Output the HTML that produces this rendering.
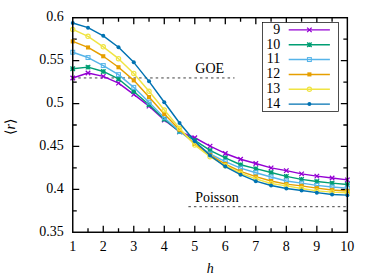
<!DOCTYPE html>
<html><head><meta charset="utf-8"><title>chart</title>
<style>
html,body{margin:0;padding:0;background:#fff;}
body{width:374px;height:280px;overflow:hidden;font-family:"Liberation Serif", serif;}
svg{display:block;}
text{font-family:"Liberation Serif", serif;font-size:14px;}
</style></head><body>
<svg width="374" height="280" viewBox="0 0 374 280">
<rect x="0" y="0" width="374" height="280" fill="#ffffff"/>
<path d="M88.01 232.25v-4.0M88.01 17.72v4.0M103.26 232.25v-6.5M103.26 17.72v6.5M118.52 232.25v-4.0M118.52 17.72v4.0M133.77 232.25v-6.5M133.77 17.72v6.5M149.03 232.25v-4.0M149.03 17.72v4.0M164.28 232.25v-6.5M164.28 17.72v6.5M179.54 232.25v-4.0M179.54 17.72v4.0M194.79 232.25v-6.5M194.79 17.72v6.5M210.05 232.25v-4.0M210.05 17.72v4.0M225.31 232.25v-6.5M225.31 17.72v6.5M240.56 232.25v-4.0M240.56 17.72v4.0M255.82 232.25v-6.5M255.82 17.72v6.5M271.07 232.25v-4.0M271.07 17.72v4.0M286.33 232.25v-6.5M286.33 17.72v6.5M301.58 232.25v-4.0M301.58 17.72v4.0M316.84 232.25v-6.5M316.84 17.72v6.5M332.09 232.25v-4.0M332.09 17.72v4.0M72.75 39.17h4.0M347.35 39.17h-4.0M72.75 60.63h6.5M347.35 60.63h-6.5M72.75 82.08h4.0M347.35 82.08h-4.0M72.75 103.53h6.5M347.35 103.53h-6.5M72.75 124.98h4.0M347.35 124.98h-4.0M72.75 146.44h6.5M347.35 146.44h-6.5M72.75 167.89h4.0M347.35 167.89h-4.0M72.75 189.34h6.5M347.35 189.34h-6.5M72.75 210.80h4.0M347.35 210.80h-4.0" stroke="#000" stroke-width="1.3" fill="none"/>
<path d="M72.75 77.95H234.5" stroke="#000" stroke-width="0.75" stroke-dasharray="2.5 3.03" fill="none"/>
<path d="M188.4 206.7H347.35" stroke="#000" stroke-width="0.75" stroke-dasharray="2.5 3.03" fill="none"/>
<polyline points="72.75,77.95 88.01,73.05 103.26,76.35 118.52,83.15 133.77,94.35 149.03,106.15 164.28,120.00 179.54,131.80 194.79,137.75 210.05,146.15 225.31,153.45 240.56,159.25 255.82,163.55 271.07,167.85 286.33,170.65 301.58,173.85 316.84,176.15 332.09,178.05 347.35,179.85" stroke="#9400d3" stroke-width="1.45" fill="none" stroke-linejoin="round"/>
<path d="M70.50 75.70L75.00 80.20M70.50 80.20L75.00 75.70" stroke="#9400d3" stroke-width="1.3" fill="none"/><path d="M85.76 70.80L90.26 75.30M85.76 75.30L90.26 70.80" stroke="#9400d3" stroke-width="1.3" fill="none"/><path d="M101.01 74.10L105.51 78.60M101.01 78.60L105.51 74.10" stroke="#9400d3" stroke-width="1.3" fill="none"/><path d="M116.27 80.90L120.77 85.40M116.27 85.40L120.77 80.90" stroke="#9400d3" stroke-width="1.3" fill="none"/><path d="M131.52 92.10L136.02 96.60M131.52 96.60L136.02 92.10" stroke="#9400d3" stroke-width="1.3" fill="none"/><path d="M146.78 103.90L151.28 108.40M146.78 108.40L151.28 103.90" stroke="#9400d3" stroke-width="1.3" fill="none"/><path d="M162.03 117.75L166.53 122.25M162.03 122.25L166.53 117.75" stroke="#9400d3" stroke-width="1.3" fill="none"/><path d="M177.29 129.55L181.79 134.05M177.29 134.05L181.79 129.55" stroke="#9400d3" stroke-width="1.3" fill="none"/><path d="M192.54 135.50L197.04 140.00M192.54 140.00L197.04 135.50" stroke="#9400d3" stroke-width="1.3" fill="none"/><path d="M207.80 143.90L212.30 148.40M207.80 148.40L212.30 143.90" stroke="#9400d3" stroke-width="1.3" fill="none"/><path d="M223.06 151.20L227.56 155.70M223.06 155.70L227.56 151.20" stroke="#9400d3" stroke-width="1.3" fill="none"/><path d="M238.31 157.00L242.81 161.50M238.31 161.50L242.81 157.00" stroke="#9400d3" stroke-width="1.3" fill="none"/><path d="M253.57 161.30L258.07 165.80M253.57 165.80L258.07 161.30" stroke="#9400d3" stroke-width="1.3" fill="none"/><path d="M268.82 165.60L273.32 170.10M268.82 170.10L273.32 165.60" stroke="#9400d3" stroke-width="1.3" fill="none"/><path d="M284.08 168.40L288.58 172.90M284.08 172.90L288.58 168.40" stroke="#9400d3" stroke-width="1.3" fill="none"/><path d="M299.33 171.60L303.83 176.10M299.33 176.10L303.83 171.60" stroke="#9400d3" stroke-width="1.3" fill="none"/><path d="M314.59 173.90L319.09 178.40M314.59 178.40L319.09 173.90" stroke="#9400d3" stroke-width="1.3" fill="none"/><path d="M329.84 175.80L334.34 180.30M329.84 180.30L334.34 175.80" stroke="#9400d3" stroke-width="1.3" fill="none"/><path d="M345.10 177.60L349.60 182.10M345.10 182.10L349.60 177.60" stroke="#9400d3" stroke-width="1.3" fill="none"/>
<polyline points="72.75,68.75 88.01,67.15 103.26,71.45 118.52,78.95 133.77,91.55 149.03,104.75 164.28,119.20 179.54,131.70 194.79,140.45 210.05,150.45 225.31,157.85 240.56,164.75 255.82,168.65 271.07,172.45 286.33,176.35 301.58,179.35 316.84,181.45 332.09,183.15 347.35,184.45" stroke="#009e73" stroke-width="1.45" fill="none" stroke-linejoin="round"/>
<path d="M70.50 66.50L75.00 71.00M70.50 71.00L75.00 66.50M70.50 68.75L75.00 68.75M72.75 66.50L72.75 71.00" stroke="#009e73" stroke-width="1.3" fill="none"/><path d="M85.76 64.90L90.26 69.40M85.76 69.40L90.26 64.90M85.76 67.15L90.26 67.15M88.01 64.90L88.01 69.40" stroke="#009e73" stroke-width="1.3" fill="none"/><path d="M101.01 69.20L105.51 73.70M101.01 73.70L105.51 69.20M101.01 71.45L105.51 71.45M103.26 69.20L103.26 73.70" stroke="#009e73" stroke-width="1.3" fill="none"/><path d="M116.27 76.70L120.77 81.20M116.27 81.20L120.77 76.70M116.27 78.95L120.77 78.95M118.52 76.70L118.52 81.20" stroke="#009e73" stroke-width="1.3" fill="none"/><path d="M131.52 89.30L136.02 93.80M131.52 93.80L136.02 89.30M131.52 91.55L136.02 91.55M133.77 89.30L133.77 93.80" stroke="#009e73" stroke-width="1.3" fill="none"/><path d="M146.78 102.50L151.28 107.00M146.78 107.00L151.28 102.50M146.78 104.75L151.28 104.75M149.03 102.50L149.03 107.00" stroke="#009e73" stroke-width="1.3" fill="none"/><path d="M162.03 116.95L166.53 121.45M162.03 121.45L166.53 116.95M162.03 119.20L166.53 119.20M164.28 116.95L164.28 121.45" stroke="#009e73" stroke-width="1.3" fill="none"/><path d="M177.29 129.45L181.79 133.95M177.29 133.95L181.79 129.45M177.29 131.70L181.79 131.70M179.54 129.45L179.54 133.95" stroke="#009e73" stroke-width="1.3" fill="none"/><path d="M192.54 138.20L197.04 142.70M192.54 142.70L197.04 138.20M192.54 140.45L197.04 140.45M194.79 138.20L194.79 142.70" stroke="#009e73" stroke-width="1.3" fill="none"/><path d="M207.80 148.20L212.30 152.70M207.80 152.70L212.30 148.20M207.80 150.45L212.30 150.45M210.05 148.20L210.05 152.70" stroke="#009e73" stroke-width="1.3" fill="none"/><path d="M223.06 155.60L227.56 160.10M223.06 160.10L227.56 155.60M223.06 157.85L227.56 157.85M225.31 155.60L225.31 160.10" stroke="#009e73" stroke-width="1.3" fill="none"/><path d="M238.31 162.50L242.81 167.00M238.31 167.00L242.81 162.50M238.31 164.75L242.81 164.75M240.56 162.50L240.56 167.00" stroke="#009e73" stroke-width="1.3" fill="none"/><path d="M253.57 166.40L258.07 170.90M253.57 170.90L258.07 166.40M253.57 168.65L258.07 168.65M255.82 166.40L255.82 170.90" stroke="#009e73" stroke-width="1.3" fill="none"/><path d="M268.82 170.20L273.32 174.70M268.82 174.70L273.32 170.20M268.82 172.45L273.32 172.45M271.07 170.20L271.07 174.70" stroke="#009e73" stroke-width="1.3" fill="none"/><path d="M284.08 174.10L288.58 178.60M284.08 178.60L288.58 174.10M284.08 176.35L288.58 176.35M286.33 174.10L286.33 178.60" stroke="#009e73" stroke-width="1.3" fill="none"/><path d="M299.33 177.10L303.83 181.60M299.33 181.60L303.83 177.10M299.33 179.35L303.83 179.35M301.58 177.10L301.58 181.60" stroke="#009e73" stroke-width="1.3" fill="none"/><path d="M314.59 179.20L319.09 183.70M314.59 183.70L319.09 179.20M314.59 181.45L319.09 181.45M316.84 179.20L316.84 183.70" stroke="#009e73" stroke-width="1.3" fill="none"/><path d="M329.84 180.90L334.34 185.40M329.84 185.40L334.34 180.90M329.84 183.15L334.34 183.15M332.09 180.90L332.09 185.40" stroke="#009e73" stroke-width="1.3" fill="none"/><path d="M345.10 182.20L349.60 186.70M345.10 186.70L349.60 182.20M345.10 184.45L349.60 184.45M347.35 182.20L347.35 186.70" stroke="#009e73" stroke-width="1.3" fill="none"/>
<polyline points="72.75,52.25 88.01,57.55 103.26,65.55 118.52,74.65 133.77,87.35 149.03,102.15 164.28,117.70 179.54,131.20 194.79,142.95 210.05,153.95 225.31,161.65 240.56,168.15 255.82,172.75 271.07,177.05 286.33,180.95 301.58,183.15 316.84,185.35 332.09,186.95 347.35,188.15" stroke="#56b4e9" stroke-width="1.45" fill="none" stroke-linejoin="round"/>
<rect x="70.80" y="50.30" width="3.90" height="3.90" stroke="#56b4e9" stroke-width="1.05" fill="none"/><rect x="86.06" y="55.60" width="3.90" height="3.90" stroke="#56b4e9" stroke-width="1.05" fill="none"/><rect x="101.31" y="63.60" width="3.90" height="3.90" stroke="#56b4e9" stroke-width="1.05" fill="none"/><rect x="116.57" y="72.70" width="3.90" height="3.90" stroke="#56b4e9" stroke-width="1.05" fill="none"/><rect x="131.82" y="85.40" width="3.90" height="3.90" stroke="#56b4e9" stroke-width="1.05" fill="none"/><rect x="147.08" y="100.20" width="3.90" height="3.90" stroke="#56b4e9" stroke-width="1.05" fill="none"/><rect x="162.33" y="115.75" width="3.90" height="3.90" stroke="#56b4e9" stroke-width="1.05" fill="none"/><rect x="177.59" y="129.25" width="3.90" height="3.90" stroke="#56b4e9" stroke-width="1.05" fill="none"/><rect x="192.84" y="141.00" width="3.90" height="3.90" stroke="#56b4e9" stroke-width="1.05" fill="none"/><rect x="208.10" y="152.00" width="3.90" height="3.90" stroke="#56b4e9" stroke-width="1.05" fill="none"/><rect x="223.36" y="159.70" width="3.90" height="3.90" stroke="#56b4e9" stroke-width="1.05" fill="none"/><rect x="238.61" y="166.20" width="3.90" height="3.90" stroke="#56b4e9" stroke-width="1.05" fill="none"/><rect x="253.87" y="170.80" width="3.90" height="3.90" stroke="#56b4e9" stroke-width="1.05" fill="none"/><rect x="269.12" y="175.10" width="3.90" height="3.90" stroke="#56b4e9" stroke-width="1.05" fill="none"/><rect x="284.38" y="179.00" width="3.90" height="3.90" stroke="#56b4e9" stroke-width="1.05" fill="none"/><rect x="299.63" y="181.20" width="3.90" height="3.90" stroke="#56b4e9" stroke-width="1.05" fill="none"/><rect x="314.89" y="183.40" width="3.90" height="3.90" stroke="#56b4e9" stroke-width="1.05" fill="none"/><rect x="330.14" y="185.00" width="3.90" height="3.90" stroke="#56b4e9" stroke-width="1.05" fill="none"/><rect x="345.40" y="186.20" width="3.90" height="3.90" stroke="#56b4e9" stroke-width="1.05" fill="none"/>
<polyline points="72.75,41.40 88.01,47.45 103.26,56.25 118.52,67.25 133.77,80.35 149.03,97.05 164.28,114.00 179.54,129.80 194.79,143.95 210.05,154.95 225.31,164.05 240.56,171.35 255.82,176.65 271.07,181.05 286.33,184.15 301.58,185.85 316.84,188.15 332.09,189.95 347.35,190.95" stroke="#e69f00" stroke-width="1.45" fill="none" stroke-linejoin="round"/>
<rect x="70.70" y="39.35" width="4.10" height="4.10" fill="#e69f00"/><rect x="85.96" y="45.40" width="4.10" height="4.10" fill="#e69f00"/><rect x="101.21" y="54.20" width="4.10" height="4.10" fill="#e69f00"/><rect x="116.47" y="65.20" width="4.10" height="4.10" fill="#e69f00"/><rect x="131.72" y="78.30" width="4.10" height="4.10" fill="#e69f00"/><rect x="146.98" y="95.00" width="4.10" height="4.10" fill="#e69f00"/><rect x="162.23" y="111.95" width="4.10" height="4.10" fill="#e69f00"/><rect x="177.49" y="127.75" width="4.10" height="4.10" fill="#e69f00"/><rect x="192.74" y="141.90" width="4.10" height="4.10" fill="#e69f00"/><rect x="208.00" y="152.90" width="4.10" height="4.10" fill="#e69f00"/><rect x="223.26" y="162.00" width="4.10" height="4.10" fill="#e69f00"/><rect x="238.51" y="169.30" width="4.10" height="4.10" fill="#e69f00"/><rect x="253.77" y="174.60" width="4.10" height="4.10" fill="#e69f00"/><rect x="269.02" y="179.00" width="4.10" height="4.10" fill="#e69f00"/><rect x="284.28" y="182.10" width="4.10" height="4.10" fill="#e69f00"/><rect x="299.53" y="183.80" width="4.10" height="4.10" fill="#e69f00"/><rect x="314.79" y="186.10" width="4.10" height="4.10" fill="#e69f00"/><rect x="330.04" y="187.90" width="4.10" height="4.10" fill="#e69f00"/><rect x="345.30" y="188.90" width="4.10" height="4.10" fill="#e69f00"/>
<polyline points="72.75,29.45 88.01,36.35 103.26,46.85 118.52,58.65 133.77,73.45 149.03,91.25 164.28,110.00 179.54,128.30 194.79,145.05 210.05,156.65 225.31,165.65 240.56,173.25 255.82,178.85 271.07,183.55 286.33,185.85 301.58,188.55 316.84,190.85 332.09,192.15 347.35,192.75" stroke="#f0e442" stroke-width="1.45" fill="none" stroke-linejoin="round"/>
<circle cx="72.75" cy="29.45" r="2.15" stroke="#f0e442" stroke-width="1.15" fill="none"/><circle cx="88.01" cy="36.35" r="2.15" stroke="#f0e442" stroke-width="1.15" fill="none"/><circle cx="103.26" cy="46.85" r="2.15" stroke="#f0e442" stroke-width="1.15" fill="none"/><circle cx="118.52" cy="58.65" r="2.15" stroke="#f0e442" stroke-width="1.15" fill="none"/><circle cx="133.77" cy="73.45" r="2.15" stroke="#f0e442" stroke-width="1.15" fill="none"/><circle cx="149.03" cy="91.25" r="2.15" stroke="#f0e442" stroke-width="1.15" fill="none"/><circle cx="164.28" cy="110.00" r="2.15" stroke="#f0e442" stroke-width="1.15" fill="none"/><circle cx="179.54" cy="128.30" r="2.15" stroke="#f0e442" stroke-width="1.15" fill="none"/><circle cx="194.79" cy="145.05" r="2.15" stroke="#f0e442" stroke-width="1.15" fill="none"/><circle cx="210.05" cy="156.65" r="2.15" stroke="#f0e442" stroke-width="1.15" fill="none"/><circle cx="225.31" cy="165.65" r="2.15" stroke="#f0e442" stroke-width="1.15" fill="none"/><circle cx="240.56" cy="173.25" r="2.15" stroke="#f0e442" stroke-width="1.15" fill="none"/><circle cx="255.82" cy="178.85" r="2.15" stroke="#f0e442" stroke-width="1.15" fill="none"/><circle cx="271.07" cy="183.55" r="2.15" stroke="#f0e442" stroke-width="1.15" fill="none"/><circle cx="286.33" cy="185.85" r="2.15" stroke="#f0e442" stroke-width="1.15" fill="none"/><circle cx="301.58" cy="188.55" r="2.15" stroke="#f0e442" stroke-width="1.15" fill="none"/><circle cx="316.84" cy="190.85" r="2.15" stroke="#f0e442" stroke-width="1.15" fill="none"/><circle cx="332.09" cy="192.15" r="2.15" stroke="#f0e442" stroke-width="1.15" fill="none"/><circle cx="347.35" cy="192.75" r="2.15" stroke="#f0e442" stroke-width="1.15" fill="none"/>
<polyline points="72.75,22.95 88.01,27.65 103.26,35.85 118.52,47.25 133.77,62.35 149.03,81.35 164.28,102.30 179.54,123.00 194.79,141.25 210.05,155.55 225.31,166.55 240.56,174.65 255.82,181.15 271.07,185.45 286.33,188.55 301.58,190.45 316.84,192.65 332.09,194.45 347.35,195.15" stroke="#0072b2" stroke-width="1.45" fill="none" stroke-linejoin="round"/>
<circle cx="72.75" cy="22.95" r="2.0" fill="#0072b2"/><circle cx="88.01" cy="27.65" r="2.0" fill="#0072b2"/><circle cx="103.26" cy="35.85" r="2.0" fill="#0072b2"/><circle cx="118.52" cy="47.25" r="2.0" fill="#0072b2"/><circle cx="133.77" cy="62.35" r="2.0" fill="#0072b2"/><circle cx="149.03" cy="81.35" r="2.0" fill="#0072b2"/><circle cx="164.28" cy="102.30" r="2.0" fill="#0072b2"/><circle cx="179.54" cy="123.00" r="2.0" fill="#0072b2"/><circle cx="194.79" cy="141.25" r="2.0" fill="#0072b2"/><circle cx="210.05" cy="155.55" r="2.0" fill="#0072b2"/><circle cx="225.31" cy="166.55" r="2.0" fill="#0072b2"/><circle cx="240.56" cy="174.65" r="2.0" fill="#0072b2"/><circle cx="255.82" cy="181.15" r="2.0" fill="#0072b2"/><circle cx="271.07" cy="185.45" r="2.0" fill="#0072b2"/><circle cx="286.33" cy="188.55" r="2.0" fill="#0072b2"/><circle cx="301.58" cy="190.45" r="2.0" fill="#0072b2"/><circle cx="316.84" cy="192.65" r="2.0" fill="#0072b2"/><circle cx="332.09" cy="194.45" r="2.0" fill="#0072b2"/><circle cx="347.35" cy="195.15" r="2.0" fill="#0072b2"/>
<rect x="72.75" y="17.72" width="274.60" height="214.53" stroke="#000" stroke-width="1.45" fill="none"/>
<rect x="262.4" y="22.35" width="76.10" height="89.05" stroke="#000" stroke-width="0.7" fill="#fff"/>
<path d="M288.7 29.85H329.9" stroke="#9400d3" stroke-width="1.45" fill="none"/><path d="M307.15 27.60L311.65 32.10M307.15 32.10L311.65 27.60" stroke="#9400d3" stroke-width="1.3" fill="none"/>
<path d="M288.7 44.70H329.9" stroke="#009e73" stroke-width="1.45" fill="none"/><path d="M307.15 42.45L311.65 46.95M307.15 46.95L311.65 42.45M307.15 44.70L311.65 44.70M309.40 42.45L309.40 46.95" stroke="#009e73" stroke-width="1.3" fill="none"/>
<path d="M288.7 59.55H329.9" stroke="#56b4e9" stroke-width="1.45" fill="none"/><rect x="307.45" y="57.60" width="3.90" height="3.90" stroke="#56b4e9" stroke-width="1.05" fill="none"/>
<path d="M288.7 74.40H329.9" stroke="#e69f00" stroke-width="1.45" fill="none"/><rect x="307.35" y="72.35" width="4.10" height="4.10" fill="#e69f00"/>
<path d="M288.7 89.25H329.9" stroke="#f0e442" stroke-width="1.45" fill="none"/><circle cx="309.40" cy="89.25" r="2.15" stroke="#f0e442" stroke-width="1.15" fill="none"/>
<path d="M288.7 104.10H329.9" stroke="#0072b2" stroke-width="1.45" fill="none"/><circle cx="309.40" cy="104.10" r="2.0" fill="#0072b2"/>
<g fill="#000"><text x="63.7" y="21.22" text-anchor="end">0.6</text><text x="63.7" y="64.13" text-anchor="end">0.55</text><text x="63.7" y="107.03" text-anchor="end">0.5</text><text x="63.7" y="149.94" text-anchor="end">0.45</text><text x="63.7" y="192.84" text-anchor="end">0.4</text><text x="63.7" y="235.75" text-anchor="end">0.35</text><text x="72.75" y="250.8" text-anchor="middle">1</text><text x="103.26" y="250.8" text-anchor="middle">2</text><text x="133.77" y="250.8" text-anchor="middle">3</text><text x="164.28" y="250.8" text-anchor="middle">4</text><text x="194.79" y="250.8" text-anchor="middle">5</text><text x="225.31" y="250.8" text-anchor="middle">6</text><text x="255.82" y="250.8" text-anchor="middle">7</text><text x="286.33" y="250.8" text-anchor="middle">8</text><text x="316.84" y="250.8" text-anchor="middle">9</text><text x="347.35" y="250.8" text-anchor="middle">10</text><text x="280.3" y="33.75" text-anchor="end">9</text><text x="280.3" y="48.60" text-anchor="end">10</text><text x="280.3" y="63.45" text-anchor="end">11</text><text x="280.3" y="78.30" text-anchor="end">12</text><text x="280.3" y="93.15" text-anchor="end">13</text><text x="280.3" y="108.00" text-anchor="end">14</text><text x="195.3" y="72.7">GOE</text><text x="195.2" y="201.7">Poisson</text><text x="210.3" y="272.8" text-anchor="middle" font-style="italic">h</text><text transform="translate(15.2 134.5) rotate(-90)">⟨<tspan font-style="italic">r</tspan>⟩</text></g>
</svg>
</body></html>
